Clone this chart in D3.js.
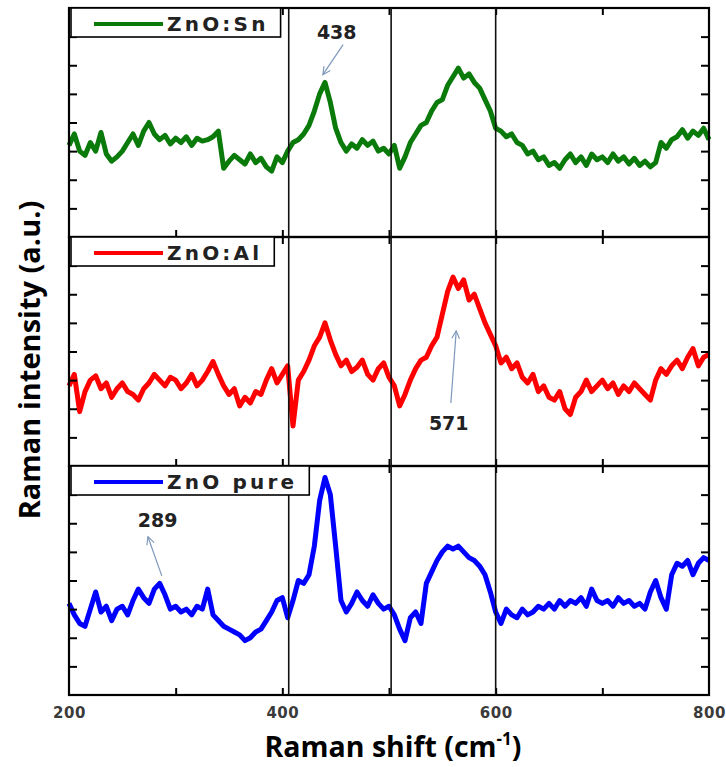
<!DOCTYPE html>
<html>
<head>
<meta charset="utf-8">
<script src="https://cdn.jsdelivr.net/npm/d3@7"></script>
<style>
  body { margin: 0; background: #fff; }
</style>
</head>
<body>
<div id="chart"></div>
<script>
// Spectres Raman (intensite en u.a., un point tous les 5 cm-1)
const shift = d3.range(200, 801, 5);

const sn = [
  320, 360, 300, 285, 330, 300, 365, 290, 265, 280,
  300, 330, 360, 320, 370, 400, 360, 340, 355, 325,
  345, 330, 350, 320, 345, 335, 340, 350, 370, 240,
  265, 285, 270, 255, 290, 260, 275, 245, 230, 280,
  260, 300, 330, 340, 360, 390, 440, 500, 540, 470,
  380, 330, 300, 325, 310, 340, 320, 335, 300, 310,
  290, 320, 240, 280, 330, 360, 390, 400, 440, 470,
  480, 530, 560, 590, 555, 570, 540, 520, 480, 440,
  380, 370, 350, 360, 330, 320, 290, 300, 270, 280,
  250, 260, 240, 270, 290, 260, 280, 250, 290, 270,
  280, 260, 290, 265, 280, 255, 275, 250, 265, 245,
  260, 330, 310, 340, 350, 375, 345, 370, 355, 380,
  340
];

const al = [
  280, 320, 190, 260, 300, 315, 270, 290, 240, 270,
  290, 260, 250, 230, 270, 290, 320, 300, 280, 310,
  300, 270, 290, 320, 280, 300, 330, 365, 320, 280,
  250, 270, 210, 240, 220, 260, 250, 300, 340, 290,
  320, 350, 140, 300, 330, 370, 420, 450, 500, 440,
  390, 350, 370, 330, 345, 370, 320, 300, 340, 360,
  310, 280, 210, 250, 300, 340, 370, 380, 420, 450,
  530, 610, 660, 620, 650, 580, 600, 550, 500, 460,
  420, 360, 380, 340, 360, 310, 290, 320, 260, 280,
  240, 230, 260, 200, 180, 240, 260, 300, 260, 280,
  300, 270, 290, 250, 280, 260, 290, 270, 250, 230,
  300, 340, 320, 350, 370, 340, 380, 410, 350, 380,
  390
];

const pure = [
  320, 280, 250, 240, 300, 360, 290, 310, 260, 300,
  310, 280, 330, 370, 340, 320, 370, 390, 350, 300,
  310, 290, 300, 280, 310, 300, 370, 280, 260, 240,
  230, 220, 210, 190, 200, 220, 230, 260, 290, 330,
  340, 270, 330, 400, 390, 420, 520, 680, 760, 700,
  520, 330, 290, 320, 360, 330, 310, 350, 320, 300,
  310, 280, 230, 190, 270, 290, 250, 390, 430, 470,
  500, 520, 510, 520, 500, 480, 470, 450, 420, 360,
  290, 250, 300, 280, 270, 300, 280, 290, 310, 300,
  320, 300, 330, 310, 330, 320, 340, 310, 370, 330,
  320, 330, 310, 340, 320, 330, 310, 320, 300, 360,
  400, 340, 300, 420, 460, 450, 470, 420, 460, 480,
  470
];

const series = [sn, al, pure];
const names = ["ZnO:Sn", "ZnO:Al", "ZnO pure"];
const colors = ["#0a7a0a", "#ff0000", "#0000ff"];

const xTickLabels = [200, 400, 600, 800];
const xMinorTicks = [300, 400, 500, 600, 700];
const yTicks = [100, 200, 300, 400, 500, 600, 700];
const refLines = [406, 502, 600];

// fleches des pics : [shift, intensite] dans le panneau concerne
const peakLabels = ["438", "571", "289"];
const peakPanel = [0, 1, 2];
const peakTip = [[438, 567], [563, 472], [274, 553]];
const peakTail = [[457, 672], [558, 220], [287, 416]];
const peakText = [[451, 714], [556, 150], [283, 612]];

// Dimensions
const width = 726, height = 767;
const plot = { left: 69, right: 709, top: 8, bottom: 695 };

const svg = d3.select("#chart")
  .append("svg")
  .attr("width", width)
  .attr("height", height);

const x = d3.scaleLinear()
  .domain([200, 800])
  .range([plot.left, plot.right]);

const panelScale = d3.scaleBand()
  .domain(names)
  .range([plot.top, plot.bottom]);

const arrowColor = "#7d98bb";

svg.append("defs").append("marker")
  .attr("id", "arrow")
  .attr("viewBox", "0 0 10 10")
  .attr("refX", 9)
  .attr("refY", 5)
  .attr("markerWidth", 8)
  .attr("markerHeight", 8)
  .attr("orient", "auto")
  .append("path")
  .attr("d", "M1,1 L9,5 L1,9")
  .attr("fill", "none")
  .attr("stroke", arrowColor)
  .attr("stroke-width", 1.2);

const yScales = [];

names.forEach(function(name, p) {
  const top = panelScale(name);
  const h = panelScale.bandwidth();
  const y = d3.scaleLinear().domain([0, 800]).range([top + h, top]);
  yScales.push(y);

  const g = svg.append("g");

  // trace
  const line = d3.line()
    .x(function(d, i) { return x(shift[i]); })
    .y(function(d) { return y(d); });

  g.append("path")
    .datum(series[p])
    .attr("d", line)
    .attr("fill", "none")
    .attr("stroke", colors[p])
    .attr("stroke-width", 5)
    .attr("stroke-linejoin", "round");

  // graduations gauche / droite
  g.append("g")
    .attr("transform", "translate(" + plot.left + ",0)")
    .call(d3.axisLeft(y).tickValues(yTicks).tickSize(-8).tickFormat(""))
    .call(s => s.select(".domain").remove())
    .selectAll("line").attr("stroke", "#000").attr("stroke-width", 2);

  g.append("g")
    .attr("transform", "translate(" + plot.right + ",0)")
    .call(d3.axisRight(y).tickValues(yTicks).tickSize(-8).tickFormat(""))
    .call(s => s.select(".domain").remove())
    .selectAll("line").attr("stroke", "#000").attr("stroke-width", 2);

  // graduations haut / bas
  g.append("g")
    .attr("transform", "translate(0," + (top + h) + ")")
    .call(d3.axisBottom(x).tickValues(xMinorTicks).tickSize(-7).tickFormat(""))
    .call(s => s.select(".domain").remove())
    .selectAll("line").attr("stroke", "#000").attr("stroke-width", 2);

  g.append("g")
    .attr("transform", "translate(0," + top + ")")
    .call(d3.axisTop(x).tickValues(xMinorTicks).tickSize(-7).tickFormat(""))
    .call(s => s.select(".domain").remove())
    .selectAll("line").attr("stroke", "#000").attr("stroke-width", 2);

  // cadre du panneau
  g.append("rect")
    .attr("x", plot.left)
    .attr("y", top)
    .attr("width", plot.right - plot.left)
    .attr("height", h)
    .attr("fill", "none")
    .attr("stroke", "#000")
    .attr("stroke-width", 2.2);
});

// lignes verticales de repere
svg.append("g")
  .selectAll("line")
  .data(refLines)
  .join("line")
  .attr("x1", d => x(d))
  .attr("x2", d => x(d))
  .attr("y1", plot.top)
  .attr("y2", plot.bottom)
  .attr("stroke", "#111")
  .attr("stroke-width", 1.6);

// legendes
names.forEach(function(name, p) {
  const top = panelScale(name);
  const lg = svg.append("g");
  const box = lg.append("rect")
    .attr("x", plot.left + 2)
    .attr("y", top)
    .attr("height", 29)
    .attr("fill", "#fff")
    .attr("stroke", "#000")
    .attr("stroke-width", 1.6);
  lg.append("line")
    .attr("x1", 94).attr("x2", 163)
    .attr("y1", top + 16).attr("y2", top + 16)
    .attr("stroke", colors[p])
    .attr("stroke-width", 4);
  const t = lg.append("text")
    .attr("x", 167)
    .attr("y", top + 23)
    .style("font-family", "'DejaVu Sans', sans-serif")
    .style("font-weight", "bold")
    .style("font-size", "20px")
    .style("letter-spacing", "3.2px")
    .attr("fill", "#222")
    .text(name);
  const bb = t.node().getBBox();
  box.attr("width", bb.x + bb.width + 12 - (plot.left + 2));
});

// annotations des pics
peakLabels.forEach(function(lab, k) {
  const y = yScales[peakPanel[k]];
  svg.append("line")
    .attr("x1", x(peakTail[k][0]))
    .attr("y1", y(peakTail[k][1]))
    .attr("x2", x(peakTip[k][0]))
    .attr("y2", y(peakTip[k][1]))
    .attr("stroke", arrowColor)
    .attr("stroke-width", 1.2)
    .attr("marker-end", "url(#arrow)");
  svg.append("text")
    .attr("x", x(peakText[k][0]))
    .attr("y", y(peakText[k][1]))
    .attr("dy", "0.36em")
    .attr("text-anchor", "middle")
    .style("font-family", "'DejaVu Sans', sans-serif")
    .style("font-weight", "bold")
    .style("font-size", "19px")
    .attr("fill", "#222")
    .text(lab);
});

// axe x : etiquettes
svg.append("g")
  .attr("transform", "translate(0," + plot.bottom + ")")
  .call(d3.axisBottom(x).tickValues(xTickLabels).tickSize(0).tickPadding(12))
  .call(s => s.select(".domain").remove())
  .selectAll("text")
  .style("font-family", "'DejaVu Sans', sans-serif")
  .style("font-weight", "bold")
  .style("font-size", "15px")
  .style("letter-spacing", "0.5px")
  .attr("fill", "#3a3a3a");

// titres des axes
const xTitle = svg.append("text")
  .attr("x", 393)
  .attr("y", 757)
  .attr("text-anchor", "middle")
  .style("font-family", "'Open Sans', sans-serif")
  .style("font-weight", "bold")
  .style("font-size", "28.5px")
  .attr("fill", "#000");
xTitle.append("tspan").text("Raman shift (cm");
xTitle.append("tspan").attr("dy", -12).style("font-size", "17px").text("-1");
xTitle.append("tspan").attr("dy", 12).text(")");

svg.append("text")
  .attr("transform", "translate(40,360) rotate(-90)")
  .attr("text-anchor", "middle")
  .style("font-family", "'Open Sans', sans-serif")
  .style("font-weight", "bold")
  .style("font-size", "29px")
  .attr("fill", "#000")
  .text("Raman intensity (a.u.)");
</script>
</body>
</html>
